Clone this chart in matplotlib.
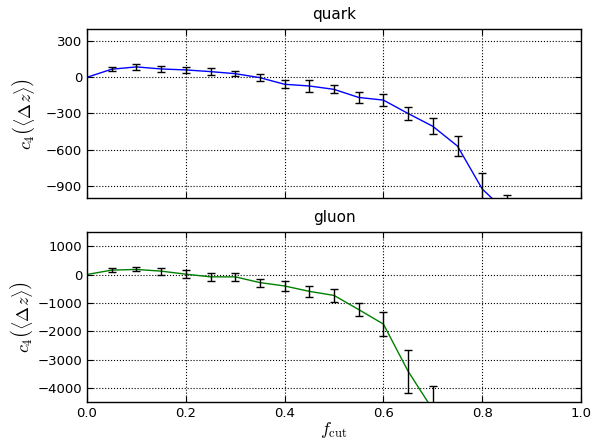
import numpy as np
from matplotlib import pyplot as plt

plt.rcParams['mathtext.fontset'] = 'cm'
plt.rcParams['font.size'] = 9.5

fcut = [0.0, 0.05, 0.1, 0.15, 0.2, 0.25, 0.3, 0.35, 0.4, 0.45, 0.5, 0.55,
        0.6, 0.65, 0.7, 0.75, 0.8, 0.85]
quark = [0, 67, 86, 69, 61, 47, 30, -3, -58, -72, -100, -167,
         -189, -300, -406, -570, -925, -1120]
quark_err = [0, 15, 22, 25, 28, 28, 22, 28, 32, 47, 32, 42,
             50, 56, 67, 86, 135, 145]

fcut_g = [0.0, 0.05, 0.1, 0.15, 0.2, 0.25, 0.3, 0.35, 0.4, 0.45, 0.5, 0.55,
          0.6, 0.65, 0.7]
gluon = [0, 155, 178, 119, 12, -83, -83, -286, -405, -595, -738, -1238,
         -1750, -3415, -4770]
gluon_err = [0, 70, 70, 120, 140, 140, 140, 140, 170, 200, 225, 240,
             430, 760, 830]

fig = plt.figure(figsize=(5.93, 4.4), dpi=100)
frame1 = fig.add_axes([87/593, 1-198/440, 494/593, 169/440])
frame2 = fig.add_axes([87/593, 1-402/440, 494/593, 170/440], sharex=frame1)

def style(frame):
    frame.grid(True, color="k", linestyle=":", linewidth=0.8)
    frame.tick_params(direction="in", top=True, right=True, length=4, width=0.8)
    for s in frame.spines.values():
        s.set_linewidth(1.0)

frame1.plot(fcut, quark, c="b", lw=1)
frame1.errorbar(fcut[1:], quark[1:], yerr=quark_err[1:], fmt="none",
                ecolor="k", capsize=3, elinewidth=1, capthick=1)
frame1.set_xlim(0, 1)
frame1.set_ylim(-1000, 400)
frame1.set_yticks([300, 0, -300, -600, -900])
frame1.set_title("quark", fontsize=11, pad=7)
frame1.set_ylabel(r"$c_4\left(\langle\Delta z\rangle\right)$", fontsize=13, labelpad=6)
frame1.tick_params(labelbottom=False)
style(frame1)

frame2.plot(fcut_g, gluon, c="g", lw=1)
frame2.errorbar(fcut_g[1:], gluon[1:], yerr=gluon_err[1:], fmt="none",
                ecolor="k", capsize=3, elinewidth=1, capthick=1)
frame2.set_ylim(-4500, 1500)
frame2.set_yticks([1000, 0, -1000, -2000, -3000, -4000])
frame2.set_xticks([0.0, 0.2, 0.4, 0.6, 0.8, 1.0])
frame2.set_title("gluon", fontsize=11, pad=7)
frame2.set_ylabel(r"$c_4\left(\langle\Delta z\rangle\right)$", fontsize=13, labelpad=2)
frame2.set_xlabel(r"$f_{\rm cut}$", fontsize=13, labelpad=0)
style(frame2)

plt.savefig("out.png", dpi=100)
